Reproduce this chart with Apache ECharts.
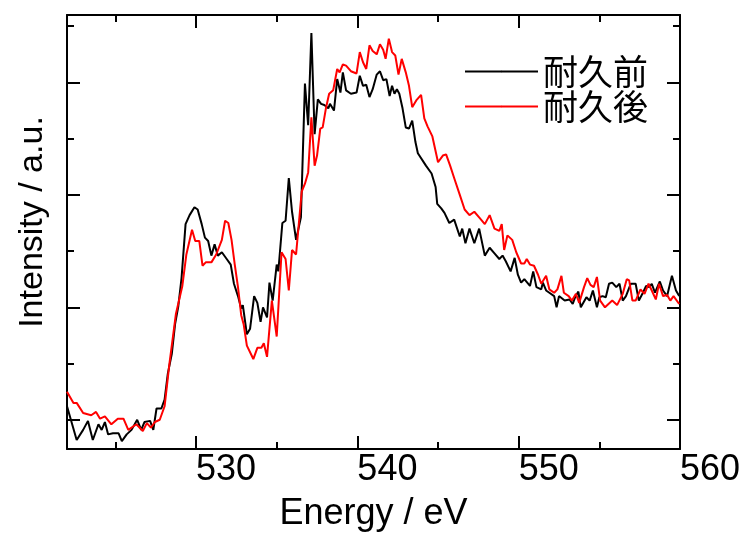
<!DOCTYPE html>
<html>
<head>
<meta charset="utf-8">
<script src="https://cdn.jsdelivr.net/npm/echarts@6/dist/echarts.min.js"></script>
<style>
  html, body { margin: 0; padding: 0; background: #fff; }
  #chart { width: 744px; height: 537px; }
</style>
</head>
<body>
<div id="chart"></div>
<script>
// 耐久前 (before durability test)
var energyBefore = [
  522.0, 522.6, 523.0, 523.3, 523.6, 523.95, 524.15, 524.35, 524.55, 524.85,
  525.2, 525.4, 525.7, 526.0, 526.35, 526.6, 526.8, 527.15, 527.35, 527.55,
  527.85, 528.05, 528.25, 528.5, 528.7, 528.9, 529.1, 529.35, 529.6, 529.9,
  530.1, 530.35, 530.55, 530.75, 530.95, 531.15, 531.35, 531.6, 531.9, 532.15,
  532.35, 532.6, 532.8, 532.9, 533.15, 533.35, 533.6, 533.8, 534.0, 534.15,
  534.4, 534.55, 534.75, 535.0, 535.1, 535.35, 535.55, 535.75, 535.95, 536.2,
  536.5, 536.75, 536.95, 537.15, 537.35, 537.55, 537.75, 537.95, 538.2, 538.3,
  538.55, 538.75, 538.95, 539.1, 539.3, 539.6, 539.95, 540.15, 540.35, 540.55,
  540.75, 540.95, 541.2, 541.4, 541.6, 541.8, 542.0, 542.15, 542.3, 542.45,
  542.6, 542.8, 543.0, 543.2, 543.4, 543.6, 543.75, 544.25, 544.6, 544.85,
  544.95, 545.2, 545.4, 545.7, 546.0, 546.35, 546.5, 546.7, 546.95, 547.25,
  547.55, 547.9, 548.2, 548.5, 548.8, 549.0, 549.2, 549.5, 549.75, 549.95,
  550.15, 550.35, 550.7, 550.9, 551.1, 551.4, 551.5, 551.7, 551.9, 552.2,
  552.35, 552.5, 552.85, 553.15, 553.35, 553.5, 553.7, 553.85, 554.2, 554.4,
  554.6, 554.85, 555.0, 555.2, 555.4, 555.6, 555.8, 556.05, 556.25, 556.45,
  556.65, 556.95, 557.25, 557.45, 557.7, 557.9, 558.1, 558.25, 558.45, 558.75,
  558.95, 559.2, 559.5, 559.75, 559.95
];
var intensityBefore = [
  0.12, -0.18, -0.09, -0.01, -0.18, -0.04, -0.09, -0.02, -0.13, -0.12,
  -0.12, -0.19, -0.13, -0.09, 0.0, -0.09, -0.02, -0.01, -0.09, 0.10,
  0.10, 0.18, 0.41, 0.59, 0.85, 1.01, 1.26, 1.74, 1.82, 1.89,
  1.87, 1.74, 1.62, 1.59, 1.46, 1.56, 1.46, 1.49, 1.43, 1.38,
  1.21, 1.10, 0.99, 1.02, 0.76, 0.81, 1.10, 1.04, 0.87, 1.00,
  0.91, 1.22, 1.06, 1.38, 1.32, 1.75, 1.77, 2.15, 1.85, 1.60,
  1.80, 2.99, 2.62, 3.44, 2.54, 2.85, 2.81, 2.80, 2.77, 2.81,
  2.75, 3.03, 2.91, 3.09, 2.93, 2.90, 2.91, 3.06, 2.97, 2.98,
  2.87, 2.94, 3.07, 3.10, 3.02, 3.03, 2.88, 2.97, 2.90, 2.94,
  2.90, 2.77, 2.60, 2.59, 2.66, 2.47, 2.37, 2.26, 2.19, 2.07,
  1.92, 1.88, 1.84, 1.75, 1.78, 1.63, 1.70, 1.57, 1.70, 1.57,
  1.70, 1.46, 1.53, 1.48, 1.43, 1.46, 1.41, 1.32, 1.44, 1.29,
  1.22, 1.25, 1.19, 1.32, 1.18, 1.16, 1.22, 1.15, 1.13, 1.10,
  1.00, 1.10, 1.06, 1.07, 1.03, 1.09, 1.14, 1.00, 1.09, 1.06,
  1.15, 1.00, 1.09, 1.10, 1.09, 1.21, 1.22, 1.18, 1.21, 1.06,
  1.10, 1.21, 1.21, 1.06, 1.13, 1.19, 1.18, 1.21, 1.13, 1.23,
  1.15, 1.10, 1.28, 1.15, 1.10
];

// 耐久後 (after durability test)
var energyAfter = [
  522.0, 522.4, 522.6, 523.0, 523.5, 523.8, 524.05, 524.35, 524.75, 525.15,
  525.5, 525.8, 526.3, 526.7, 526.95, 527.2, 527.45, 527.75, 528.05, 528.35,
  528.75, 529.15, 529.4, 529.75, 529.95, 530.2, 530.4, 530.6, 530.95, 531.25,
  531.6, 531.8, 532.0, 532.2, 532.4, 532.6, 532.8, 532.95, 533.15, 533.55,
  533.8, 534.05, 534.2, 534.4, 534.7, 535.0, 535.3, 535.55, 535.75, 535.95,
  536.2, 536.55, 536.75, 536.95, 537.15, 537.35, 537.5, 537.7, 537.85, 538.05,
  538.25, 538.5, 538.75, 538.9, 539.1, 539.3, 539.6, 539.95, 540.15, 540.35,
  540.55, 540.75, 540.95, 541.2, 541.4, 541.6, 541.75, 541.95, 542.15, 542.35,
  542.55, 542.75, 543.0, 543.2, 543.4, 543.65, 543.95, 544.15, 544.35, 544.65,
  545.0, 545.3, 545.5, 545.75, 546.0, 546.35, 546.65, 546.95, 547.25, 547.55,
  547.9, 548.2, 548.5, 548.8, 548.95, 549.1, 549.3, 549.6, 549.85, 550.15,
  550.35, 550.5, 550.7, 550.95, 551.2, 551.4, 551.7, 551.9, 552.2, 552.4,
  552.65, 552.8, 553.1, 553.3, 553.55, 553.75, 554.05, 554.25, 554.45, 554.65,
  554.85, 555.05, 555.35, 555.8, 556.1, 556.45, 556.7, 556.85, 557.05, 557.25,
  557.55, 557.8, 558.05, 558.25, 558.5, 558.7, 558.95, 559.2, 559.4, 559.6,
  559.95
];
var intensityAfter = [
  0.25, 0.15, 0.15, 0.06, 0.04, 0.07, 0.01, 0.03, -0.04, 0.01,
  0.01, -0.09, -0.04, -0.10, -0.03, -0.07, -0.02, 0.0, 0.12, 0.50,
  0.94, 1.19, 1.47, 1.69, 1.59, 1.59, 1.37, 1.40, 1.40, 1.47,
  1.60, 1.77, 1.75, 1.60, 1.38, 1.18, 0.93, 0.85, 0.66, 0.54,
  0.64, 0.64, 0.68, 0.56, 1.06, 0.74, 1.49, 1.43, 1.15, 1.51,
  1.47, 2.03, 2.10, 2.20, 2.69, 2.26, 2.35, 2.59, 2.60, 2.77,
  2.90, 2.93, 3.12, 3.09, 3.16, 3.15, 3.10, 3.08, 3.27, 3.18,
  3.12, 3.33, 3.28, 3.25, 3.34, 3.29, 3.21, 3.39, 3.27, 3.24,
  3.07, 3.21, 3.09, 2.97, 2.78, 2.84, 2.89, 2.68, 2.61, 2.52,
  2.29, 2.35, 2.36, 2.26, 2.15, 2.00, 1.87, 1.82, 1.85, 1.80,
  1.74, 1.82, 1.70, 1.68, 1.74, 1.51, 1.64, 1.60, 1.49, 1.39,
  1.39, 1.43, 1.38, 1.37, 1.29, 1.21, 1.28, 1.16, 1.13, 1.16,
  1.28, 1.13, 1.10, 1.06, 1.12, 1.04, 1.18, 1.26, 1.20, 1.18,
  1.27, 1.06, 1.00, 1.06, 1.02, 1.12, 1.25, 1.24, 1.06, 1.06,
  1.16, 1.12, 1.21, 1.15, 1.07, 1.21, 1.10, 1.11, 1.06, 1.10,
  1.03
];

var seriesNames = ['耐久前', '耐久後'];
var xMajorTicks = [530, 540, 550, 560];
var xMinorTicks = [525, 535, 545, 555];
var yMajorTicks = [0, 1, 2, 3];
var yMinorTicks = [0.5, 1.5, 2.5, 3.5];

function pairs(xs, ys) {
  var out = [];
  for (var i = 0; i < xs.length; i++) out.push([xs[i], ys[i]]);
  return out;
}

var axisFont = 'Liberation Sans, Arial, sans-serif';
var lineStyleAxis = { color: '#000', width: 2 };

function xAxisDef(pos, ticks, len, showLine, showLabel) {
  return {
    type: 'value', position: pos, min: 522, max: 560,
    splitLine: { show: false },
    axisLine: { show: showLine, onZero: false, lineStyle: lineStyleAxis },
    axisTick: { show: true, inside: true, length: len, customValues: ticks, lineStyle: lineStyleAxis },
    axisLabel: {
      show: showLabel, customValues: ticks, align: 'left', margin: 3,
      color: '#000', fontSize: 36, fontFamily: axisFont
    }
  };
}
function yAxisDef(pos, ticks, len, showLine) {
  return {
    type: 'value', position: pos, min: -0.26, max: 3.6,
    splitLine: { show: false },
    axisLine: { show: showLine, onZero: false, lineStyle: lineStyleAxis },
    axisTick: { show: true, inside: true, length: len, customValues: ticks, lineStyle: lineStyleAxis },
    axisLabel: { show: false }
  };
}

var xBottom = xAxisDef('bottom', xMajorTicks, 13, true, true);
xBottom.name = 'Energy / eV';
xBottom.nameLocation = 'middle';
xBottom.nameGap = 47;
xBottom.nameTextStyle = { color: '#000', fontSize: 36, fontFamily: axisFont };

var yLeft = yAxisDef('left', yMajorTicks, 13, true);
yLeft.name = 'Intensity / a.u.';
yLeft.nameLocation = 'middle';
yLeft.nameGap = 17;
yLeft.nameTextStyle = { color: '#000', fontSize: 34, fontFamily: axisFont, padding: [0, 0, 0, 20] };

var option = {
  animation: false,
  backgroundColor: '#fff',
  grid: { left: 67, top: 15, width: 613, height: 437.5, containLabel: false },
  legend: {
    data: seriesNames,
    orient: 'vertical',
    left: 459,
    top: 49,
    itemWidth: 73,
    itemHeight: 2,
    itemGap: 0,
    textStyle: { color: '#000', fontSize: 35, fontFamily: 'Noto Sans CJK JP' }
  },
  xAxis: [
    xBottom,
    xAxisDef('bottom', xMinorTicks, 7, false, false),
    xAxisDef('top', xMajorTicks, 13, true, false),
    xAxisDef('top', xMinorTicks, 7, false, false)
  ],
  yAxis: [
    yLeft,
    yAxisDef('left', yMinorTicks, 7, false),
    yAxisDef('right', yMajorTicks, 13, true),
    yAxisDef('right', yMinorTicks, 7, false)
  ],
  series: [
    {
      name: seriesNames[0], type: 'line', xAxisIndex: 0, yAxisIndex: 0,
      showSymbol: false, symbol: 'none',
      lineStyle: { color: '#000', width: 2 }, itemStyle: { color: '#000' },
      data: pairs(energyBefore, intensityBefore)
    },
    {
      name: seriesNames[1], type: 'line', xAxisIndex: 0, yAxisIndex: 0,
      showSymbol: false, symbol: 'none',
      lineStyle: { color: '#ff0000', width: 2 }, itemStyle: { color: '#ff0000' },
      data: pairs(energyAfter, intensityAfter)
    }
  ]
};

var chart = echarts.init(document.getElementById('chart'));
chart.setOption(option);
</script>
</body>
</html>
